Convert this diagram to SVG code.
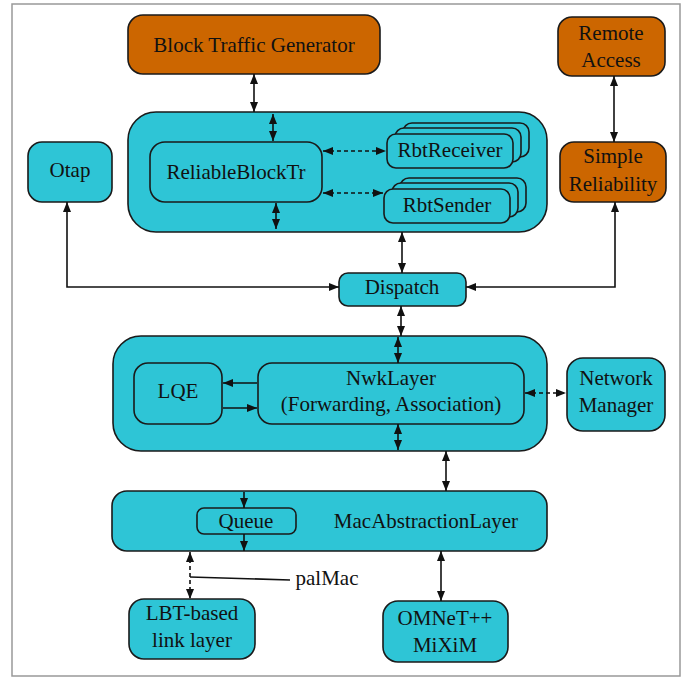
<svg xmlns="http://www.w3.org/2000/svg" width="697" height="677" viewBox="0 0 697 677">
<style>
.c{fill:#2ec5d6;stroke:#1a1a1a;stroke-width:1.6}
.o{fill:#cc6600;stroke:#1a1a1a;stroke-width:1.6}
text{font-family:"Liberation Serif","Times New Roman",serif;font-size:21px;fill:#111;text-anchor:middle}
.l{fill:none;stroke:#111;stroke-width:1.6}
.d{stroke-dasharray:4,3}
</style>
<defs>
<marker id="a" viewBox="0 0 10 8" refX="10" refY="4" markerWidth="10" markerHeight="8" markerUnits="userSpaceOnUse" orient="auto-start-reverse">
<path d="M0,0 L10,4 L0,8 z" fill="#111"/>
</marker>
</defs>
<rect x="12" y="4" width="668" height="672" fill="#fff" stroke="#999" stroke-width="1.5"/>

<g id="btg"><rect class="o" x="128" y="15" width="252" height="59" rx="15"/><text x="254" y="52">Block Traffic Generator</text></g>
<g id="remote"><rect class="o" x="558" y="17" width="107" height="59" rx="14"/><text x="611" y="40">Remote</text><text x="611" y="67">Access</text></g>
<g id="topContainer"><rect class="c" x="128" y="112" width="419" height="120" rx="28"/></g>
<g id="rbt"><rect class="c" x="150" y="142" width="172" height="60" rx="15"/><text x="236" y="179">ReliableBlockTr</text></g>
<g id="rbtReceiver">
<rect class="c" x="403" y="123" width="126" height="34" rx="9"/>
<rect class="c" x="395" y="128" width="126" height="34" rx="9"/>
<rect class="c" x="387" y="134" width="126" height="34" rx="9"/>
<text x="450" y="157">RbtReceiver</text></g>
<g id="rbtSender">
<rect class="c" x="400" y="178" width="126" height="34" rx="9"/>
<rect class="c" x="392" y="183" width="126" height="34" rx="9"/>
<rect class="c" x="384" y="189" width="126" height="34" rx="9"/>
<text x="447" y="212">RbtSender</text></g>
<g id="otap"><rect class="c" x="28" y="142" width="84" height="60" rx="14"/><text x="70" y="177">Otap</text></g>
<g id="simple"><rect class="o" x="560" y="142" width="106" height="60" rx="14"/><text x="613" y="163">Simple</text><text x="613" y="191">Reliability</text></g>
<g id="dispatch"><rect class="c" x="339" y="273" width="127" height="33" rx="9"/><text x="402" y="294">Dispatch</text></g>
<g id="midContainer"><rect class="c" x="113" y="336" width="434" height="115" rx="28"/></g>
<g id="lqe"><rect class="c" x="134" y="363" width="88" height="61" rx="14"/><text x="178" y="398">LQE</text></g>
<g id="nwk"><rect class="c" x="258" y="363" width="266" height="61" rx="14"/><text x="391" y="385">NwkLayer</text><text x="391" y="411">(Forwarding, Association)</text></g>
<g id="netman"><rect class="c" x="567" y="358" width="98" height="73" rx="16"/><text x="616" y="385">Network</text><text x="616" y="412">Manager</text></g>
<g id="mal"><rect class="c" x="112" y="491" width="435" height="60" rx="15"/><text x="426" y="528">MacAbstractionLayer</text></g>
<g id="queue"><rect class="c" x="197" y="508" width="99" height="26" rx="7"/><text x="246" y="528">Queue</text></g>
<g id="lbt"><rect class="c" x="129" y="599" width="126" height="60" rx="15"/><text x="192" y="620">LBT-based</text><text x="192" y="647">link layer</text></g>
<g id="omnet"><rect class="c" x="383" y="601" width="125" height="61" rx="15"/><text x="445" y="625">OMNeT++</text><text x="445" y="652">MiXiM</text></g>
<g id="palMacLabel"><text x="327" y="585">palMac</text></g>

<g id="connectors">
<line class="l" x1="254" y1="74" x2="254" y2="112" marker-start="url(#a)" marker-end="url(#a)"/>
<line class="l" x1="273" y1="114" x2="273" y2="141" marker-start="url(#a)" marker-end="url(#a)"/>
<line class="l" x1="276" y1="203" x2="276" y2="229" marker-start="url(#a)" marker-end="url(#a)"/>
<line class="l d" x1="323" y1="151" x2="386" y2="151" marker-start="url(#a)" marker-end="url(#a)"/>
<line class="l d" x1="323" y1="193" x2="383" y2="193" marker-start="url(#a)" marker-end="url(#a)"/>
<line class="l" x1="402" y1="232" x2="402" y2="273" marker-start="url(#a)" marker-end="url(#a)"/>
<path class="l" d="M339,287 H67 V202" marker-start="url(#a)" marker-end="url(#a)"/>
<path class="l" d="M466,287 H615 V202" marker-start="url(#a)" marker-end="url(#a)"/>
<line class="l" x1="614" y1="76" x2="614" y2="142" marker-start="url(#a)" marker-end="url(#a)"/>
<line class="l" x1="401" y1="306" x2="401" y2="336" marker-start="url(#a)" marker-end="url(#a)"/>
<line class="l" x1="398" y1="337" x2="398" y2="363" marker-start="url(#a)" marker-end="url(#a)"/>
<line class="l" x1="398" y1="424" x2="398" y2="450" marker-start="url(#a)" marker-end="url(#a)"/>
<line class="l" x1="257" y1="383" x2="223" y2="383" marker-end="url(#a)"/>
<line class="l" x1="223" y1="408" x2="257" y2="408" marker-end="url(#a)"/>
<line class="l d" x1="525" y1="393" x2="566" y2="393" marker-start="url(#a)" marker-end="url(#a)"/>
<line class="l" x1="446" y1="451" x2="446" y2="491" marker-start="url(#a)" marker-end="url(#a)"/>
<line class="l" x1="244" y1="492" x2="244" y2="508" marker-end="url(#a)"/>
<line class="l" x1="244" y1="534" x2="244" y2="551" marker-end="url(#a)"/>
<line class="l d" x1="190" y1="552" x2="190" y2="599" marker-start="url(#a)" marker-end="url(#a)"/>
<line class="l" x1="190" y1="577" x2="290" y2="580" stroke-width="1.2"/>
<line class="l" x1="441" y1="551" x2="441" y2="601" marker-start="url(#a)" marker-end="url(#a)"/>
</g>
</svg>
